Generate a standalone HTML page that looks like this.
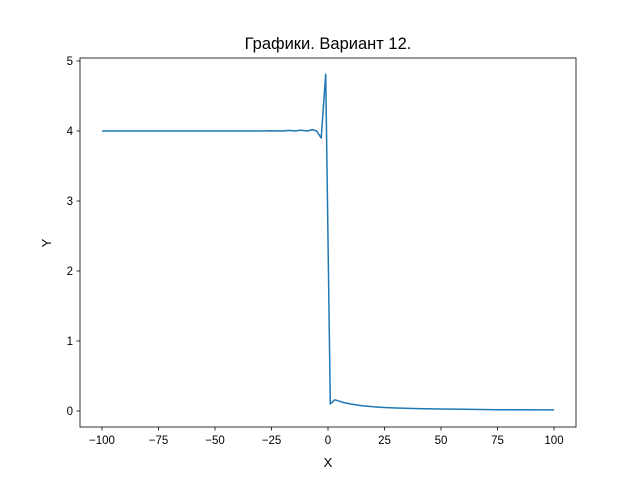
<!DOCTYPE html>
<html><head><meta charset="utf-8"><style>
body{margin:0;background:#fff}
svg text{font-family:"Liberation Sans","DejaVu Sans",sans-serif;fill:#000}
</style></head><body>
<svg id="c" width="640" height="480">
<rect x="0" y="0" width="640" height="480" fill="#fff"/>
<text x="328" y="49" font-size="16.5" text-anchor="middle">Графики. Вариант 12.</text>
<g id="ax"></g>
<text x="328" y="467" font-size="13" text-anchor="middle">X</text>
<text x="51" y="243" font-size="13" text-anchor="middle" transform="rotate(-90 51 243)">Y</text>
</svg>
<script>
const xs=[-100,-75,-50,-30,-25,-20,-17,-15,-12,-9.1,-7.07,-5.05,-3.03,-1.01,1.01,3.03,5.05,7,10,15,20,25,30,40,50,60,75,100];
const ys=[4.0,4.0,4.0,4.0,4.005,4.0,4.008,4.0,4.01,4.0,4.02,4.0,3.9,4.81,0.1,0.16,0.14,0.12,0.1,0.075,0.06,0.05,0.043,0.034,0.028,0.024,0.019,0.015];
const xTicks=[-100,-75,-50,-25,0,25,50,75,100];
const yTicks=[0,1,2,3,4,5];
const L=80,R=576,T=58,B=427;
const sx=v=>328+v*2.26, sy=v=>411-v*70;
const NS='http://www.w3.org/2000/svg';
const g=document.getElementById('ax');
function mk(t,a){const e=document.createElementNS(NS,t);for(const k in a)e.setAttribute(k,a[k]);g.appendChild(e);return e;}
let d=xs.map((x,i)=>(i?'L':'M')+sx(x).toFixed(1)+' '+sy(ys[i]).toFixed(1)).join(' ');
const line=mk('path',{d:d,fill:'none',stroke:'#1f77b4','stroke-width':1.5,'stroke-linejoin':'round'});


const fr=mk('rect',{x:L,y:T,width:R-L,height:B-T,fill:'none',stroke:'#000','stroke-width':0.8});


xTicks.forEach(v=>{const x=sx(v);mk('line',{x1:x,x2:x,y1:B,y2:B+3.5,stroke:'#000','stroke-width':0.8});
const t=mk('text',{x:x,y:B+17,'font-size':11.5,'text-anchor':'middle'});t.textContent=(v<0?'\u2212'+(-v):v);

});
yTicks.forEach(v=>{const y=sy(v);mk('line',{x1:L-3.5,x2:L,y1:y,y2:y,stroke:'#000','stroke-width':0.8});
const t=mk('text',{x:L-7,y:y+4,'font-size':11.5,'text-anchor':'end'});t.textContent=v;

});
</script>
</body></html>
